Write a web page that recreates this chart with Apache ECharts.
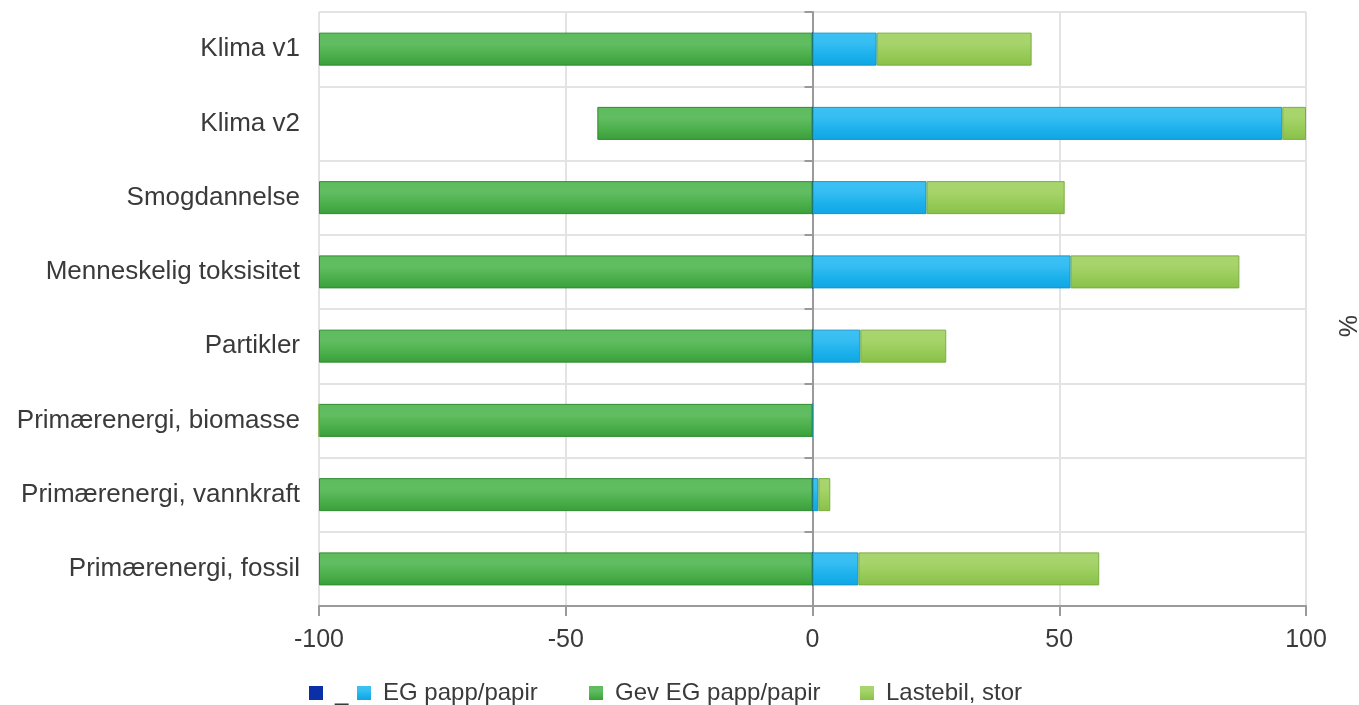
<!DOCTYPE html>
<html>
<head>
<meta charset="utf-8">
<script src="https://cdn.jsdelivr.net/npm/echarts@6/dist/echarts.min.js"></script>
<style>
  html, body { margin: 0; padding: 0; background: #fff; }
  #chart { width: 1359px; height: 705px; }
</style>
</head>
<body>
<div id="chart"></div>
<script>
// Impact categories, top to bottom
const categories = [
  'Klima v1', 'Klima v2', 'Smogdannelse', 'Menneskelig toksisitet',
  'Partikler', 'Primærenergi, biomasse', 'Primærenergi, vannkraft', 'Primærenergi, fossil'
];
// Contributions in percent
const blankValues    = [0, 0, 0, 0, 0, 0, 0, 0];
const egValues       = [13.0, 95.2, 23.1, 52.3, 9.7, 0, 1.2, 9.3];
const gevEgValues    = [-100, -43.6, -100, -100, -100, -100, -100, -100];
const lastebilValues = [31.4, 4.8, 28.0, 34.2, 17.4, 0, 2.4, 48.8];
const xTicks = [-100, -50, 0, 50, 100];
const seriesNames = ['_', 'EG papp/papir', 'Gev EG papp/papir', 'Lastebil, stor'];

const FONT = '"Liberation Sans", Arial, sans-serif';
const TEXT = '#3a3a3a';

function grad(stops) {
  return new echarts.graphic.LinearGradient(0, 0, 0, 1,
    stops.map((c, i) => ({ offset: i / (stops.length - 1), color: c })));
}

function barSeries(name, data, color, fill, border) {
  return {
    name: name,
    type: 'bar',
    stack: 'total',
    data: data,
    barWidth: 33,
    color: color,
    itemStyle: { color: fill, borderColor: border, borderWidth: 1 },
    emphasis: { disabled: true }
  };
}

// one legend entry per block so each can sit at its own spot
const legendLefts = [304, 352, 584, 855];
const legends = seriesNames.map((n, i) => ({
  data: [n],
  left: legendLefts[i],
  top: 676,
  itemWidth: 14,
  itemHeight: 14,
  icon: 'rect',
  selectedMode: false,
  itemStyle: { borderWidth: 0 },
  textStyle: { fontSize: 24, color: TEXT, fontFamily: FONT, padding: [0, 0, 0, 7] }
}));

const chart = echarts.init(document.getElementById('chart'));
chart.setOption({
  animation: false,
  textStyle: { fontFamily: FONT },
  grid: { left: 319, right: 53, top: 12, bottom: 99, containLabel: false, outerBoundsMode: 'none' },
  legend: legends,
  xAxis: {
    type: 'value',
    min: -100,
    max: 100,
    interval: 50,
    axisLine: { show: true, lineStyle: { color: '#9a9a9a', width: 2 } },
    axisTick: { show: true, length: 10, lineStyle: { color: '#9a9a9a', width: 2 } },
    axisLabel: {
      fontSize: 25, color: TEXT, margin: 22, fontFamily: FONT,
      formatter: v => xTicks.includes(v) ? String(v) : ''
    },
    splitLine: { show: true, lineStyle: { color: '#e3e3e3', width: 2 } }
  },
  yAxis: [
    {
      type: 'category',
      data: categories,
      inverse: true,
      axisLine: { show: false, onZero: false },
      axisTick: { show: false },
      axisLabel: { fontSize: 26, color: TEXT, margin: 19, fontFamily: FONT },
      splitLine: { show: true, lineStyle: { color: '#e3e3e3', width: 2 } }
    },
    {
      // zero line with its band ticks
      type: 'category',
      data: categories,
      inverse: true,
      position: 'right',
      axisLine: { show: true, onZero: true, lineStyle: { color: '#9a9a9a', width: 2 } },
      axisTick: { show: true, inside: true, length: 8, lineStyle: { color: '#9a9a9a', width: 2 } },
      axisLabel: { show: false },
      splitLine: { show: false }
    }
  ],
  series: [
    barSeries(seriesNames[0], blankValues, '#0b2fa6', '#0b2fa6', '#0b2fa6'),
    barSeries(seriesNames[1], egValues, '#14b0ec',
      grad(['#3fc1f3', '#35bdf2', '#1cb1ec', '#10a6e3']), '#1096cc'),
    barSeries(seriesNames[2], gevEgValues, '#37a537',
      grad(['#5dbb5d', '#62bd62', '#4cb04c', '#3a9f3a']), '#2e8d2e'),
    barSeries(seriesNames[3], lastebilValues, '#8cc84b',
      grad(['#a9d56f', '#a6d36a', '#97cb58', '#89c049']), '#7aae3e')
  ],
  graphic: [{
    type: 'text',
    x: 1346,
    y: 326,
    rotation: -Math.PI / 2,
    style: { text: '%', fill: TEXT, font: '25px "Liberation Sans", Arial, sans-serif', align: 'center', verticalAlign: 'middle' }
  }]
});
</script>
</body>
</html>
